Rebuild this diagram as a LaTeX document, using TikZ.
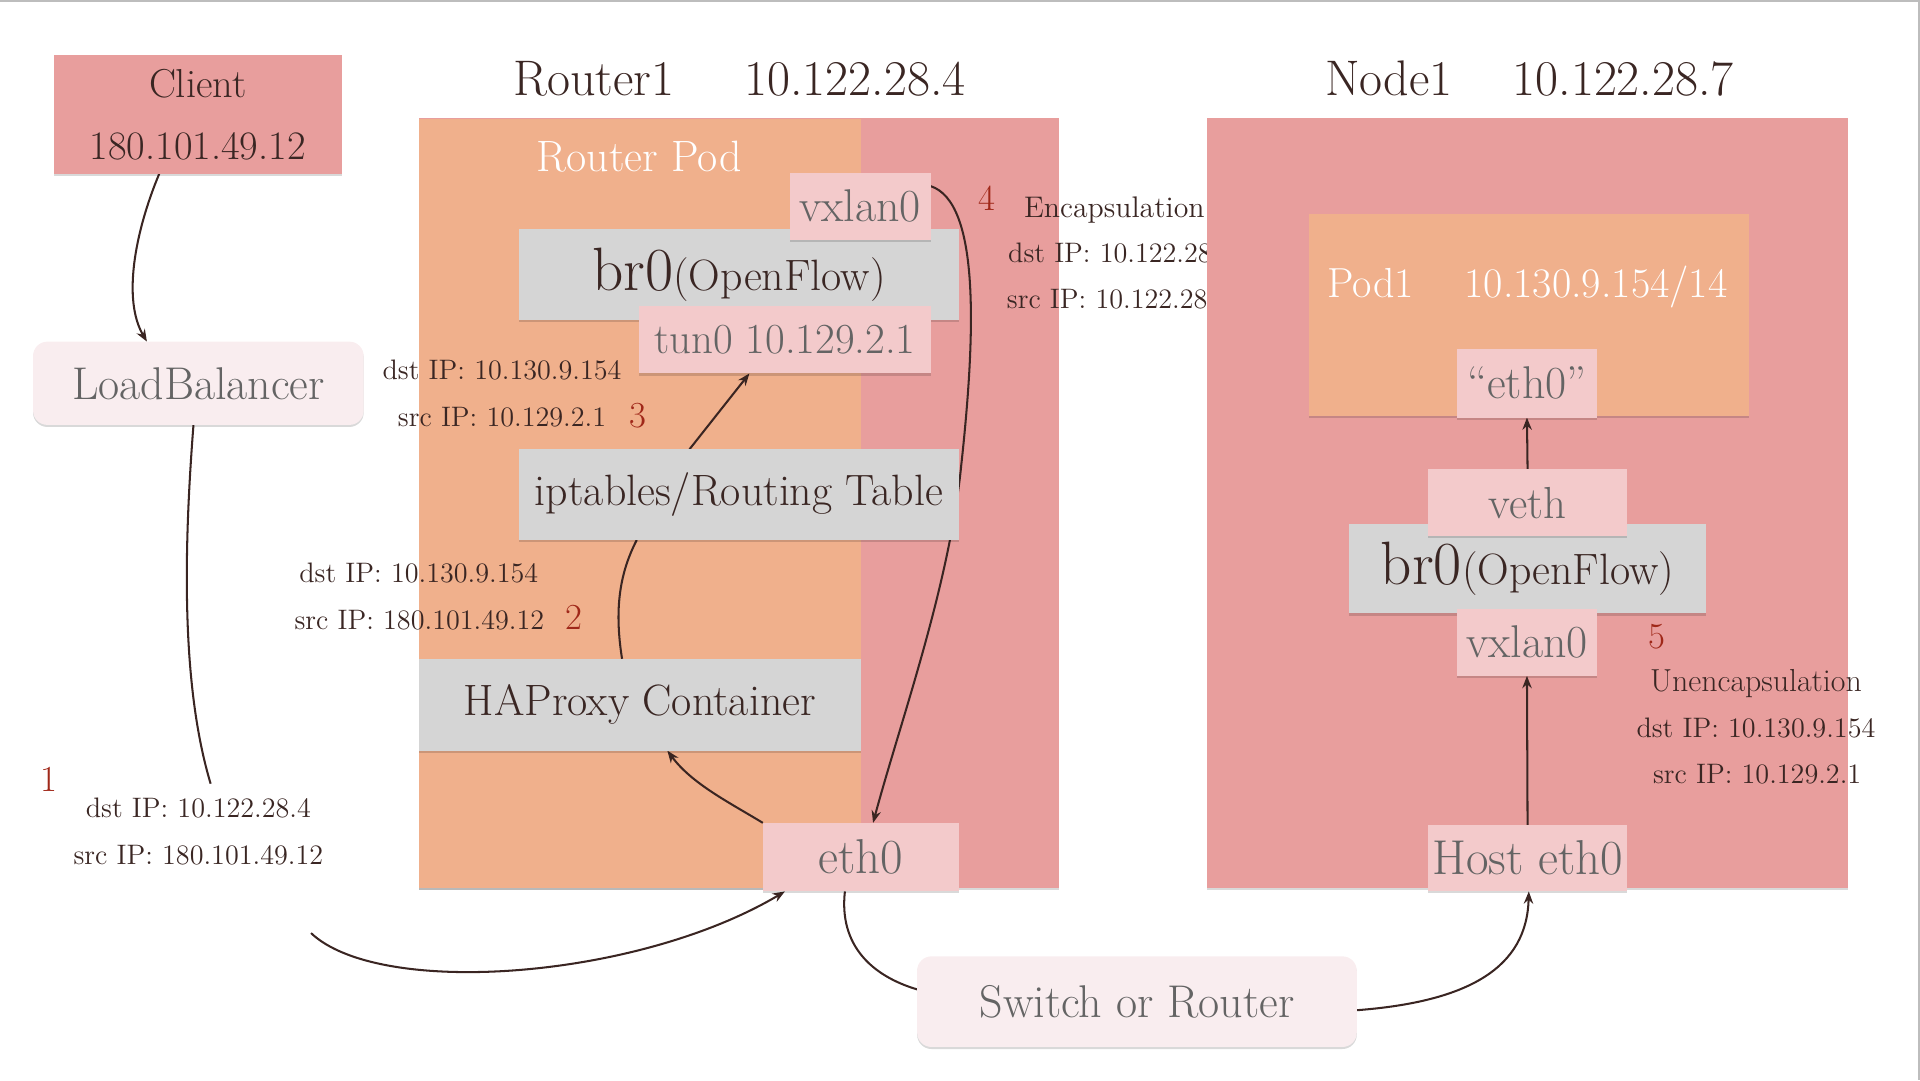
\documentclass[tikz,border=0pt]{standalone}
\usepackage{fontspec}
\usetikzlibrary{arrows.meta,calc,shadows}
\definecolor{pinkreg}{HTML}{E89E9D}
\definecolor{podorange}{HTML}{F0B08C}
\definecolor{ifpink}{HTML}{F3CACB}
\definecolor{boxgray}{HTML}{D5D5D5}
\definecolor{rndfill}{HTML}{F9EDEF}
\definecolor{txtdark}{HTML}{3A2623}
\definecolor{txtgray}{HTML}{646464}
\definecolor{numred}{HTML}{A02819}
\definecolor{arrowc}{HTML}{3A2522}
\definecolor{framegray}{HTML}{BDBDBD}
\pgfdeclarelayer{bg}
\pgfdeclarelayer{mid}
\pgfsetlayers{bg,mid,main}
\newcommand{\fsz}[1]{\fontsize{#1}{1.2\dimexpr#1\relax}\selectfont}
\tikzset{
  sz/.style 2 args={minimum width=#1*0.6pt, minimum height=#2*0.6pt},
  fs/.style={font=\fsz{#1}},
  shad/.style={drop shadow={shadow xshift=0pt, shadow yshift=-1pt, opacity=0.15, fill=black}},
  region/.style={fill=pinkreg, inner sep=0pt, outer sep=0pt, shad},
  podreg/.style={fill=podorange, inner sep=0pt, outer sep=0pt, shad},
  ifbox/.style={fill=ifpink, inner sep=0pt, outer sep=0pt, text=txtgray, fs=22.5pt, shad},
  graybox/.style={fill=boxgray, inner sep=0pt, outer sep=0pt, text=txtdark, fs=21.5pt, shad},
  rbox/.style={fill=rndfill, rounded corners=7pt, inner sep=0pt, outer sep=0pt, text=txtgray, fs=22.5pt, shad},
  title/.style={text=txtdark, inner sep=0pt, anchor=base, fs=24.5pt},
  lbl/.style={text=txtdark, inner sep=0pt, anchor=base, fs=13.8pt},
  num/.style={text=numred, inner sep=0pt, anchor=base, fs=18pt},
  wlbl/.style={text=white, inner sep=0pt, anchor=base, fs=21.5pt},
  flow/.style={draw=arrowc, line width=1pt},
  tip/.style={-{Stealth[length=6pt,width=4.6pt]}},
}
\begin{document}
\begin{tikzpicture}[x=0.6pt,y=-0.6pt]
\useasboundingbox (0,0) rectangle (1568,882);
\draw[framegray, line width=1pt] (0,1) -- (1567,1) -- (1567,882);

% ---------- regions ----------
\begin{pgfonlayer}{bg}
\node[region, sz={523}{629}] (routerreg) at (603.5,410.5) {};
\node[podreg, sz={361}{628}] (routerpod) at (522.5,411) {};
\node[wlbl] (rptext) at (522,140) {Router Pod};
% encapsulation label (partly hidden by the Node1 box)
\node[num] (n4) at (806,172) {4};
\node[lbl, anchor=base west, fs=14.6pt] (enc1) at (836,178) {Encapsulation};
\node[lbl, anchor=base west] (enc2) at (823,214) {dst IP: 10.122.28.7};
\node[lbl, anchor=base west] (enc3) at (822,252) {src IP: 10.122.28.4};
\node[region, sz={523}{629}] (nodereg) at (1247.5,410.5) {};
\node[podreg, sz={359}{165}] (pod1) at (1248.5,257.5) {};
\node[wlbl, fs=20.6pt] (pod1text) at (1247.5,243) {Pod1\hspace{1.2em}10.130.9.154/14};
\end{pgfonlayer}

% ---------- titles ----------
\node[title] (t1) at (604,78) {Router1\hspace{1.4em}10.122.28.4};
\node[title] (t2) at (1249,78) {Node1\hspace{1.2em}10.122.28.7};

% ---------- client side ----------
\node[fill=pinkreg, inner sep=0pt, outer sep=0pt, shad, sz={235}{97}, text=txtdark, align=center,
      font=\fontsize{19.8pt}{30.6pt}\selectfont] (client) at (161.5,93.5) {Client\\180.101.49.12};
\node[rbox, sz={270}{68}] (lb) at (162,313) {LoadBalancer};

% ---------- router pod ----------
\node[graybox, sz={359}{74}] (br0A) at (603.5,224) {{\fsz{30pt}br0}(OpenFlow)};
\node[ifbox, sz={115}{55}] (vxlanA) at (702.5,168.5) {vxlan0};
\node[ifbox, sz={238}{55}, fs=21pt] (tun0) at (641,277.5) {tun0 10.129.2.1};
\node[graybox, sz={359}{74}] (ipt) at (603.5,404) {iptables/Routing Table};
\node[graybox, sz={361}{75}] (hap) at (522.5,575.5) {HAProxy Container};
\node[ifbox, sz={160}{56}, fs=24pt] (eth0A) at (703,700) {eth0};

% ---------- node1 ----------
\node[ifbox, sz={114}{56}] (eth0B) at (1247,313) {“eth0”};
\node[graybox, sz={291}{73}] (br0B) at (1247.5,464.5) {{\fsz{30pt}br0}(OpenFlow)};
\node[ifbox, sz={163}{55}, fs=22pt] (veth) at (1247.5,410.5) {veth};
\node[ifbox, sz={114}{55}] (vxlanB) at (1247,524.5) {vxlan0};
\node[ifbox, sz={163}{54}, fs=24pt] (hosteth) at (1247.5,701) {Host eth0};

% ---------- switch ----------
\node[rbox, sz={359}{74}] (switch) at (928.5,818) {Switch or Router};

% ---------- labels ----------
\node[lbl] (l3a) at (410,310) {dst IP: 10.130.9.154};
\node[lbl] (l3b) at (410,348) {src IP: 10.129.2.1};
\node[num] (n3) at (521,349) {3};
\node[lbl] (l2a) at (342,476) {dst IP: 10.130.9.154};
\node[lbl] (l2b) at (342.5,514) {src IP: 180.101.49.12};
\node[num] (n2) at (469,514) {2};
\node[num] (n1) at (40,646) {1};
\node[lbl] (l1a) at (162,668) {dst IP: 10.122.28.4};
\node[lbl] (l1b) at (162,706) {src IP: 180.101.49.12};
\node[num] (n5) at (1353,530) {5};
\node[lbl, fs=15.6pt] (l5a) at (1434,565) {Unencapsulation};
\node[lbl] (l5b) at (1434,602) {dst IP: 10.130.9.154};
\node[lbl] (l5c) at (1435,640) {src IP: 10.129.2.1};

% ---------- connectors ----------
\begin{pgfonlayer}{mid}
\coordinate (c1) at (172,640);
\coordinate (c2) at (254,762);
\draw[flow,tip] ($(client.south)+(-31.5,0)$) .. controls (110,190) and (100,245) .. ($(lb.north)+(-42,0)$);
\draw[flow] ($(lb.south)+(-4,0)$) .. controls (150,450) and (148,560) .. (c1);
\draw[flow,tip] (c2) .. controls (310,815) and (520,800) .. ($(eth0A.south west)+(18,0)$);
\draw[flow,tip] (eth0A.north west) .. controls (595,655) and (565,640) .. ($(hap.south)+(22.5,0)$);
\draw[flow] ($(hap.north)+(-14.5,0)$) .. controls (502,500) and (505,470) .. ($(ipt.south)+(-83.5,0)$);
\draw[flow,tip] ($(ipt.north)+(-40.5,0)$) -- ($(tun0.south)+(-29,0)$);
\draw[flow,tip] ($(vxlanA.east)+(0,-16.5)$) .. controls (800,165) and (797,270) .. (785,380) .. controls (775,480) and (735,590) .. ($(eth0A.north)+(10,0)$);
\draw[flow] ($(eth0A.south)+(-13,0)$) .. controls (685,772) and (712,797) .. ($(switch.west)+(0,-10)$);
\draw[flow,tip] ($(switch.east)+(0,7)$) .. controls (1200,818) and (1247,790) .. ($(hosteth.south)+(1,0)$);
\draw[flow,tip] (hosteth.north) -- (vxlanB.south);
\draw[flow,tip] (veth.north) -- (eth0B.south);
\end{pgfonlayer}
\end{tikzpicture}
\end{document}
